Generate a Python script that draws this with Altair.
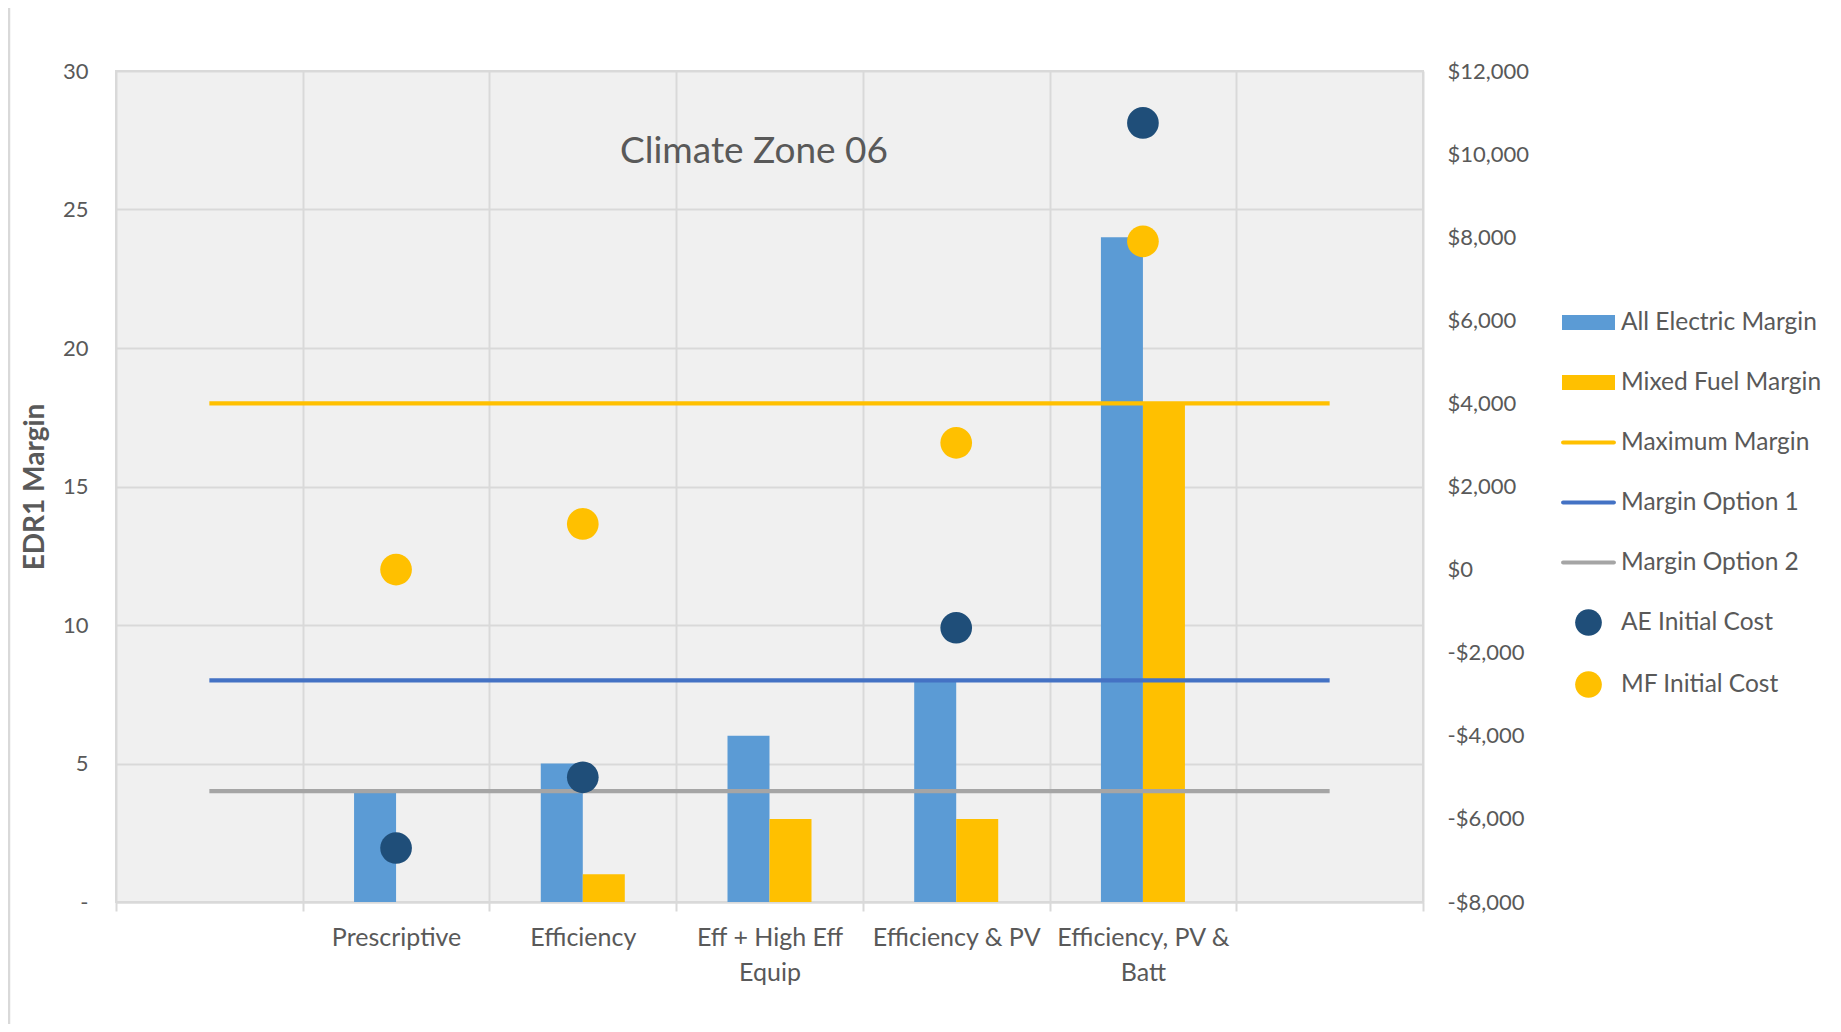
import altair as alt
import pandas as pd

# ---------------- data ----------------
categories = ["", "Prescriptive", "Efficiency", "Eff + High Eff\nEquip",
              "Efficiency & PV", "Efficiency, PV &\nBatt", " "]
named = categories[1:6]
ae_margin = [4, 5, 6, 8, 24]
mf_margin = [0, 1, 3, 3, 18]
ae_cost = [-6700, -5000, None, -1400, 10750]
mf_cost = [0, 1100, None, 3050, 7900]
max_margin = 18
option1 = 8
option2 = 4
title_text = "Climate Zone 06"
series_names = ["All Electric Margin", "Mixed Fuel Margin", "Maximum Margin",
                "Margin Option 1", "Margin Option 2", "AE Initial Cost", "MF Initial Cost"]
series_colors = ["#5B9BD5", "#FFC000", "#FFC000", "#4472C4", "#A5A5A5", "#1F4E79", "#FFC000"]
left_ticks = [0, 5, 10, 15, 20, 25, 30]
right_ticks = [-8000, -6000, -4000, -2000, 0, 2000, 4000, 6000, 8000, 10000, 12000]

# legend / point symbol shapes
rect_path = "M-1,-0.283H1V0.283H-1Z"
line_path = ("M-0.96,-0.075H0.96A0.075,0.075 0 0,1 0.96,0.075"
             "H-0.96A0.075,0.075 0 0,1 -0.96,-0.075Z")
circ_path = "M-0.504,0A0.504,0.504 0 1,0 0.504,0A0.504,0.504 0 1,0 -0.504,0Z"
shape_paths = [rect_path, rect_path, line_path, line_path, line_path, circ_path, circ_path]

# ---------------- tables ----------------
bar_rows = []
for c, a, m in zip(named, ae_margin, mf_margin):
    bar_rows.append({"category": c, "series": series_names[0], "value": a})
    bar_rows.append({"category": c, "series": series_names[1], "value": m})
bars_df = pd.DataFrame(bar_rows)

line_rows = []
for name, v in zip(series_names[2:5], [max_margin, option1, option2]):
    line_rows.append({"category": categories[0], "series": name, "value": v})
    line_rows.append({"category": categories[-1], "series": name, "value": v})
lines_df = pd.DataFrame(line_rows)

pt_rows = []
for c, a, m in zip(named, ae_cost, mf_cost):
    if a is not None:
        pt_rows.append({"category": c, "series": series_names[5], "cost": a})
    if m is not None:
        pt_rows.append({"category": c, "series": series_names[6], "cost": m})
pts_df = pd.DataFrame(pt_rows)

title_df = pd.DataFrame({"t": [title_text]})

FONT = "Lato"
GRAY = "#595959"
GRID = "#d9d9d9"

offset_domain = ["_l", series_names[0], series_names[1], "_r"]

x_enc = alt.X(
    "category:N",
    sort=categories,
    scale=alt.Scale(domain=categories, paddingInner=0, paddingOuter=0),
    axis=alt.Axis(
        title=None, labelAngle=0, labelFontSize=25, labelFont=FONT, labelColor=GRAY,
        labelExpr="split(datum.label, '\\n')", labelLineHeight=35, labelBaseline="top",
        labelPadding=14, labelOverlap=False, labelLimit=400,
        tickBand="extent", ticks=True, tickSize=9, tickColor=GRID, tickWidth=2,
        grid=True, gridColor=GRID, gridWidth=2,
        domain=True, domainColor=GRID, domainWidth=2,
    ),
)

y_left = alt.Y(
    "value:Q",
    scale=alt.Scale(domain=[0, 30]),
    axis=alt.Axis(
        values=left_ticks, labelExpr="datum.value == 0 ? '-' : datum.label",
        labelFontSize=22, labelFont=FONT, labelColor=GRAY, labelPadding=28,
        ticks=False, tickSize=0, domain=False,
        grid=True, gridColor=GRID, gridWidth=2,
        title="EDR1 Margin", titleFont=FONT, titleFontSize=28, titleFontWeight="bold",
        titleColor=GRAY, titleX=-81, titleBaseline="middle",
    ),
)

frame = alt.Chart(title_df).mark_rect(filled=False, stroke=GRID, strokeWidth=2.5).encode(
    x=alt.value(-107), x2=alt.value(2200), y=alt.value(-65), y2=alt.value(2200)
)

bars = alt.Chart(bars_df).mark_bar().encode(
    x=x_enc,
    xOffset=alt.XOffset("series:N", sort=offset_domain,
                        scale=alt.Scale(domain=offset_domain, paddingInner=0, paddingOuter=0.2226)),
    y=y_left,
    fill=alt.Fill("series:N",
                  scale=alt.Scale(domain=series_names[:2], range=series_colors[:2]),
                  legend=None),
)

lines = alt.Chart(lines_df).mark_line(strokeWidth=4.2).encode(
    x=x_enc,
    y=y_left,
    stroke=alt.Stroke("series:N",
                      scale=alt.Scale(domain=series_names[2:5], range=series_colors[2:5]),
                      legend=None),
    detail="series:N",
)

title_layer = alt.Chart(title_df).mark_text(
    font=FONT, fontSize=37, color=GRAY, align="center", baseline="middle"
).encode(text="t:N", x=alt.value(638), y=alt.value(81))

left = alt.layer(frame, bars, lines, title_layer)

legend_kw = dict(
    title=None, orient="none", legendX=1446, legendY=225,
    symbolSize=2809, symbolStrokeWidth=0, labelFontSize=24.5, labelColor=GRAY,
    labelFont=FONT, rowPadding=22, labelOffset=6, labelLimit=400,
)

points = alt.Chart(pts_df).mark_point(filled=True, size=3956, opacity=1, strokeWidth=0).encode(
    x=x_enc,
    y=alt.Y(
        "cost:Q",
        scale=alt.Scale(domain=[-8000, 12000]),
        axis=alt.Axis(
            orient="right", values=right_ticks, grid=False, ticks=False, tickSize=0, domain=False,
            labelExpr="(datum.value < 0 ? '-$' : '$') + format(abs(datum.value), ',.0f')",
            labelFontSize=22, labelFont=FONT, labelColor=GRAY, labelPadding=24, title=None,
        ),
    ),
    color=alt.Color("series:N", scale=alt.Scale(domain=series_names, range=series_colors),
                    legend=alt.Legend(**legend_kw)),
    shape=alt.Shape("series:N", scale=alt.Scale(domain=series_names, range=shape_paths),
                    legend=alt.Legend(**legend_kw)),
)

chart = (
    alt.layer(left, points)
    .resolve_scale(y="independent")
    .properties(
        width=1307, height=831,
        autosize=alt.AutoSizeParams(type="none"),
        padding={"left": 108, "top": 63, "right": 410, "bottom": 122},
        background="white",
    )
    .configure_view(fill="#f0f0f0", stroke=GRID, strokeWidth=2)
)

chart.save("out.html", embed_options={"renderer": "svg", "actions": False})
